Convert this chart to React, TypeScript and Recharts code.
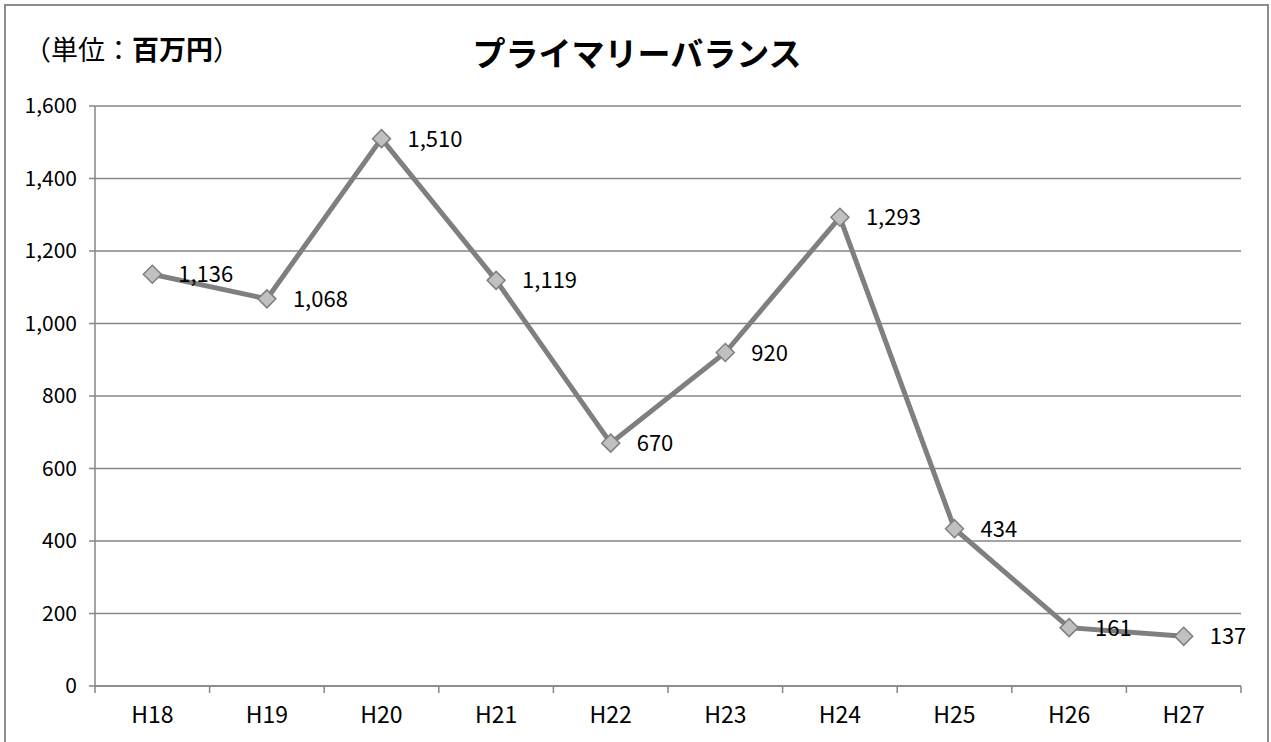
import React from 'react';
import { LineChart, Line, XAxis, YAxis, CartesianGrid, LabelList } from 'recharts';

const categories = ['H18', 'H19', 'H20', 'H21', 'H22', 'H23', 'H24', 'H25', 'H26', 'H27'];
const values = [1136, 1068, 1510, 1119, 670, 920, 1293, 434, 161, 137];
const yTicks = [0, 200, 400, 600, 800, 1000, 1200, 1400, 1600];
const titleText = 'プライマリーバランス';
const unitOpen = '（単位：';
const unitBold = '百万円';
const unitClose = '）';

const data = categories.map((c, i) => ({ name: c, value: values[i] }));

const FONT = '"Noto Sans CJK JP", "Noto Sans", sans-serif';
const GRAY = '#868686';
const fmt = (v: number) => v.toLocaleString('en-US');

const W = 1271;
const H = 742;
const M = { top: 106, right: 30, bottom: 0, left: 0 };
const Y_AXIS_W = 95;
const X_AXIS_H = 56;
const PLOT_W = W - M.left - M.right - Y_AXIS_W;
const BAND = PLOT_W / categories.length;
const AXIS_Y = H - M.bottom - X_AXIS_H;

const Diamond = (props: any) => {
  const { cx, cy } = props;
  if (cx == null || cy == null) return null;
  const r = 9;
  return (
    <polygon
      points={`${cx},${cy - r} ${cx + r},${cy} ${cx},${cy + r} ${cx - r},${cy}`}
      fill="#c0c0c0"
      stroke="#7f7f7f"
      strokeWidth={1.5}
    />
  );
};

const renderLabel = (props: any) => {
  const { x, y, value } = props;
  return (
    <text x={x + 26} y={y} dy={8} fontSize={22} fontFamily={FONT} fill="#000" textAnchor="start">
      {fmt(value)}
    </text>
  );
};

const XTick = (props: any) => {
  const { x, payload, index } = props;
  const left = x - BAND / 2;
  const right = x + BAND / 2;
  return (
    <g>
      <line x1={left} x2={left} y1={AXIS_Y} y2={AXIS_Y + 7} stroke={GRAY} strokeWidth={1.5} />
      {index === categories.length - 1 && (
        <line x1={right} x2={right} y1={AXIS_Y} y2={AXIS_Y + 7} stroke={GRAY} strokeWidth={1.5} />
      )}
      <text x={x} y={AXIS_Y + 29} dy={8} textAnchor="middle" fontSize={23} fontFamily={FONT} fill="#000">
        {payload.value}
      </text>
    </g>
  );
};

export default function App() {
  return (
    <div style={{ position: 'absolute', left: 0, top: 0, width: W, height: H, overflow: 'hidden', background: '#fff' }}>
      <div
        style={{
          position: 'absolute',
          left: 4,
          top: 4,
          width: 1265,
          height: 780,
          border: '2px solid #8c8c8c',
          boxSizing: 'border-box',
        }}
      />
      <div
        style={{
          position: 'absolute',
          left: 637,
          top: 52,
          transform: 'translate(-50%, -50%)',
          fontFamily: FONT,
          fontWeight: 'bold',
          fontSize: 33,
          lineHeight: 1,
          whiteSpace: 'nowrap',
          color: '#000',
        }}
      >
        {titleText}
      </div>
      <div
        style={{
          position: 'absolute',
          left: 24,
          top: 48,
          transform: 'translateY(-50%)',
          fontFamily: FONT,
          fontSize: 27,
          lineHeight: 1,
          whiteSpace: 'nowrap',
          color: '#000',
        }}
      >
        {unitOpen}
        <span style={{ fontWeight: 'bold' }}>{unitBold}</span>
        {unitClose}
      </div>
      <div style={{ position: 'absolute', left: 0, top: 0 }}>
        <LineChart width={W} height={H} data={data} margin={M}>
          <CartesianGrid vertical={false} stroke={GRAY} strokeWidth={1.5} />
          <XAxis
            dataKey="name"
            scale="band"
            height={X_AXIS_H}
            tickLine={false}
            axisLine={{ stroke: GRAY, strokeWidth: 1.5 }}
            tick={<XTick />}
            interval={0}
          />
          <YAxis
            domain={[0, 1600]}
            ticks={yTicks}
            width={Y_AXIS_W}
            tickSize={6}
            tickMargin={12}
            tickLine={{ stroke: GRAY, strokeWidth: 1.5 }}
            axisLine={{ stroke: GRAY, strokeWidth: 1.5 }}
            tick={{ fontSize: 21, fill: '#000', fontFamily: FONT }}
            tickFormatter={fmt}
            interval={0}
          />
          <Line
            type="linear"
            dataKey="value"
            stroke="#7f7f7f"
            strokeWidth={5}
            dot={<Diamond />}
            activeDot={false}
            isAnimationActive={false}
          >
            <LabelList dataKey="value" content={renderLabel} />
          </Line>
        </LineChart>
      </div>
    </div>
  );
}
